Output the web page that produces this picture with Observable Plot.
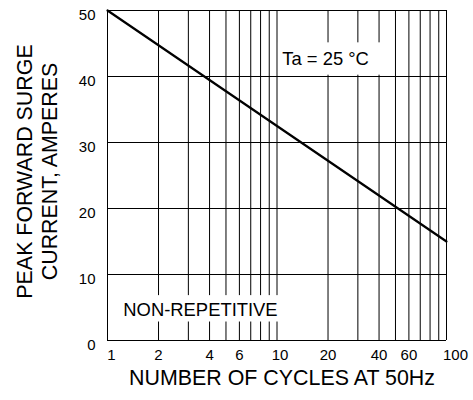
<!DOCTYPE html>
<html>
<head>
<meta charset="utf-8">
<script src="https://cdn.jsdelivr.net/npm/d3@7"></script>
<script src="https://cdn.jsdelivr.net/npm/@observablehq/plot@0.6"></script>
<style>
  html, body { margin: 0; padding: 0; background: #fff; }
  svg { display: block; }
</style>
</head>
<body>
<div id="chart"></div>
<script>
// Curve data
const cycles = [1, 100];
const amps = [50, 15];

// Grid values
const xGrid = [1, 2, 3, 4, 5, 6, 7, 8, 9, 10, 20, 30, 40, 50, 60, 70, 80, 90, 100];
const yGrid = [0, 10, 20, 30, 40, 50];

// Tick labels
const xTicks = [2, 4, 6, 20, 40, 60];
const yTicks = [0, 10, 20, 30, 40, 50];

// Annotations (data units)
const annoText = ["Ta = 25 °C", "NON-REPETITIVE"];
const annoX = [10.75, 1.24];
const annoY = [42.6, 4.6];
const boxX1 = [10.2, 1.1];
const boxX2 = [48, 10.35];
const boxY1 = [40.2, 2.8];
const boxY2 = [45.1, 6.8];

const xTitle = "NUMBER OF CYCLES AT 50Hz";
const yTitle = "PEAK FORWARD SURGE\nCURRENT, AMPERES";

const curve = cycles.map((c, i) => ({c, a: amps[i]}));
const annos = annoText.map((t, i) => ({t, x: annoX[i], y: annoY[i]}));
const boxes = boxX1.map((v, i) => ({x1: v, x2: boxX2[i], y1: boxY1[i], y2: boxY2[i]}));

const font = "'Liberation Sans', Arial, Helvetica, sans-serif";
const xLab = (vals, dx) => Plot.text(vals, {x: d => d, text: d => String(d), frameAnchor: "bottom", lineAnchor: "top", dy: 9, dx, fontSize: 15, fill: "#000"});

const chart = Plot.plot({
  width: 473,
  height: 400,
  marginLeft: 107,
  marginRight: 27,
  marginTop: 10,
  marginBottom: 60,
  style: {fontFamily: font, color: "#000", background: "#fff"},
  x: {type: "log", domain: [1, 100], axis: null},
  y: {domain: [0, 50], axis: null},
  marks: [
    Plot.ruleX(xGrid, {stroke: "#000", strokeWidth: 1}),
    Plot.ruleY(yGrid, {stroke: "#000", strokeWidth: 1}),
    Plot.rect(boxes, {x1: "x1", x2: "x2", y1: "y1", y2: "y2", fill: "#fff", inset: 0}),
    Plot.line(curve, {x: "c", y: "a", stroke: "#000", strokeWidth: 2.2}),
    Plot.text(annos, {x: "x", y: "y", text: "t", textAnchor: "start", fontSize: 18.4, fill: "#000"}),
    xLab(xTicks, 0),
    xLab([1], 4),
    xLab([10], 3),
    xLab([100], 9),
    Plot.text(yTicks, {y: d => d, text: d => String(d), frameAnchor: "left", textAnchor: "end", dx: -12, dy: 5, fontSize: 15, fill: "#000"}),
    Plot.text([xTitle], {frameAnchor: "bottom", dy: 44, dx: 5, fontSize: 21.4, fill: "#000"}),
    Plot.text([yTitle], {frameAnchor: "left", textAnchor: "middle", rotate: -90, dx: -71, dy: -4, fontSize: 21.4, lineHeight: 1.17, fill: "#000"})
  ]
});
document.getElementById("chart").appendChild(chart);
</script>
</body>
</html>
